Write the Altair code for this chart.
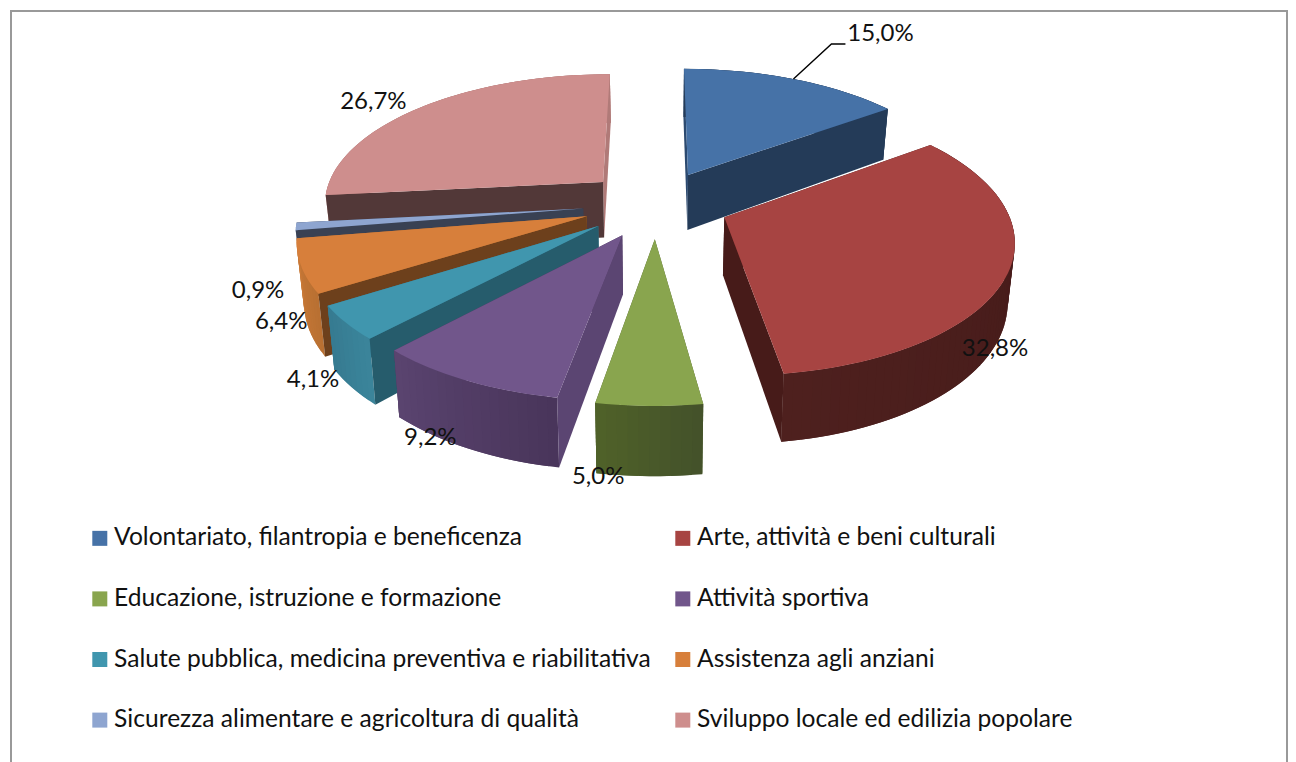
import math
import altair as alt
import pandas as pd

categories = [
    "Volontariato, filantropia e beneficenza",
    "Arte, attività e beni culturali",
    "Educazione, istruzione e formazione",
    "Attività sportiva",
    "Salute pubblica, medicina preventiva e riabilitativa",
    "Assistenza agli anziani",
    "Sicurezza alimentare e agricoltura di qualità",
    "Sviluppo locale ed edilizia popolare",
]
shares = [15.0, 32.8, 5.0, 9.2, 4.1, 6.4, 0.9, 26.7]
labels = ["15,0%", "32,8%", "5,0%", "9,2%", "4,1%", "6,4%", "0,9%", "26,7%"]

legend_colors = ["#4672A7", "#A74442", "#89A54E", "#71568B", "#4096AE", "#D77F3B", "#8EA5D0", "#CE8E8D"]
wall_start = ["#2c4a70", "#471b19", "#4a5a2a", "#5b4572", "#265c6c", "#6d401c", "#394153", "#523838"]
wall_end = ["#243b58", "#471b19", "#4a5a2a", "#49355a", "#367a90", "#b87032", "#394153", "#b07a78"]
outer_a = ["#243b58", "#421918", "#43512a", "#49355a", "#3b859b", "#b87032", "#8298c0", "#b07a78"]
outer_b = ["#243b58", "#4e201e", "#506229", "#5a4470", "#367a90", "#cb7a38", "#8298c0", "#b07a78"]

label_dx = [87, -13, -51, -36, -33, -20, -38, -49]
label_dy = [-45, 76, 71, 57, 57, 56, 65, -5]

# view geometry of the tilted, exploded pie
CX, CY, RX, RY, PERSP, EXPLODE, DEPTH, SHRINK = 656, 204, 281, 130, 0.15, 0.26, 57, 0.98
PAINT_ORDER = [7, 6, 5, 4, 3, 0, 1, 2]


def project(u, v, bottom=False):
    s = 1 / (1 + PERSP * v)
    x, y = RX * u * s, -RY * v * s
    if bottom:
        x *= SHRINK
        y += DEPTH * s
    return CX + x, CY + y


def mix(c1, c2, t):
    a = [int(c1[i:i + 2], 16) for i in (1, 3, 5)]
    b = [int(c2[i:i + 2], 16) for i in (1, 3, 5)]
    return "#" + "".join(f"{round(p + (q - p) * t):02x}" for p, q in zip(a, b))


total = sum(shares)
wall_rows, top_rows = [], []
label_rows = []
starts = [sum(shares[:i]) / total * 2 * math.pi for i in range(len(shares))]
ends = [sum(shares[:i + 1]) / total * 2 * math.pi for i in range(len(shares))]
pid = 0


def add_poly(rows, pts, **extra):
    global pid
    for j, (x, y) in enumerate(pts):
        rows.append({"poly": f"p{pid:04d}", "i": j, "x": x, "y": y, **extra})
    pid += 1


for k in PAINT_ORDER:
    t0, t1 = starts[k], ends[k]
    mid = (t0 + t1) / 2
    ou, ov = EXPLODE * math.sin(mid), EXPLODE * math.cos(mid)
    n = max(3, int((t1 - t0) / 0.03))
    ts = [t0 + (t1 - t0) * j / n for j in range(n + 1)]
    rim = [(ou + math.sin(t), ov + math.cos(t)) for t in ts]

    def radial(point, col):
        u, v = point
        add_poly(wall_rows, [project(ou, ov), project(u, v), project(u, v, True), project(ou, ov, True)], col=col)

    start_seen = math.sin(t0) < -1e-6
    end_seen = math.sin(t1) > 1e-6
    # walls facing away first
    if not start_seen:
        radial(rim[0], wall_start[k])
    if not end_seen:
        radial(rim[-1], wall_end[k])
    # rim wall, in overlapping strips so that it can be shaded
    for j in range(n):
        col = mix(outer_a[k], outer_b[k], (j + 0.5) / n)
        a, b = rim[j], rim[min(j + 2, n)]
        add_poly(wall_rows, [project(*a), project(*b), project(*b, True), project(*a, True)], col=col)
    # walls facing the viewer
    if start_seen:
        radial(rim[0], wall_start[k])
    if end_seen:
        radial(rim[-1], wall_end[k])
    # top face
    add_poly(top_rows, [project(ou, ov)] + [project(u, v) for u, v in rim], cat=categories[k])

for k in range(len(shares)):
    mid = (starts[k] + ends[k]) / 2
    ax, ay = project((1 + EXPLODE) * math.sin(mid), (1 + EXPLODE) * math.cos(mid))
    label_rows.append({"x": ax + label_dx[k], "y": ay + label_dy[k], "t": labels[k]})

mid0 = (starts[0] + ends[0]) / 2
lx, ly = project((1 + EXPLODE) * math.sin(mid0), (1 + EXPLODE) * math.cos(mid0))
leader_rows = [
    {"x": lx, "y": ly, "i": 0},
    {"x": lx + 38, "y": ly - 35, "i": 1},
    {"x": lx + 52, "y": ly - 35, "i": 2},
]

xs = alt.Scale(domain=[8, 1288], nice=False, zero=False)
ys = alt.Scale(domain=[762, 8], nice=False, zero=False)
X = alt.X("x:Q", scale=xs, axis=None)
Y = alt.Y("y:Q", scale=ys, axis=None)

walls = alt.Chart(pd.DataFrame(wall_rows)).mark_line(strokeWidth=0, interpolate="linear").encode(
    x=X, y=Y,
    detail="poly:N", order="i:Q",
    fill=alt.Fill("col:N", scale=None, legend=None),
)

tops = alt.Chart(pd.DataFrame(top_rows)).mark_line(strokeWidth=0, interpolate="linear").encode(
    x=X, y=Y,
    detail="poly:N", order="i:Q",
    fill=alt.Fill(
        "cat:N",
        scale=alt.Scale(domain=categories, range=legend_colors),
        legend=alt.Legend(
            title=None, orient="none", legendX=79.5, legendY=518, columns=2, direction="horizontal",
            symbolType="square", symbolSize=225, symbolStrokeWidth=0, symbolOpacity=1,
            labelFont="Lato", labelFontSize=24.6, labelColor="#111111", labelLimit=800,
            rowPadding=35.6, columnPadding=19, labelOffset=2,
            values=categories,
        ),
    ),
)

leader = alt.Chart(pd.DataFrame(leader_rows)).mark_line(color="#000000", strokeWidth=1.4).encode(
    x=X, y=Y, order="i:Q"
)

text = alt.Chart(pd.DataFrame(label_rows)).mark_text(
    font="Lato", fontSize=24, color="#111111", align="center", baseline="middle"
).encode(x=X, y=Y, text="t:N")

frame_style = dict(color="#999999", strokeWidth=2)
frame_top = alt.Chart(pd.DataFrame({"a": [0]})).mark_rule(**frame_style).encode(
    x=alt.value(2), x2=alt.value(1279), y=alt.value(3))
frame_left = alt.Chart(pd.DataFrame({"a": [0]})).mark_rule(**frame_style).encode(
    x=alt.value(3), y=alt.value(2), y2=alt.value(754))
frame_right = alt.Chart(pd.DataFrame({"a": [0]})).mark_rule(**frame_style).encode(
    x=alt.value(1279), y=alt.value(2), y2=alt.value(754))

chart = alt.layer(frame_top, frame_left, frame_right, walls, tops, leader, text).resolve_scale(
    fill="independent"
).properties(
    width=1280, height=754, padding=0, background="#ffffff",
    autosize=alt.AutoSizeParams(type="none"),
).configure_view(stroke=None)

chart.save("out.html", embed_options={"renderer": "svg", "actions": False})
